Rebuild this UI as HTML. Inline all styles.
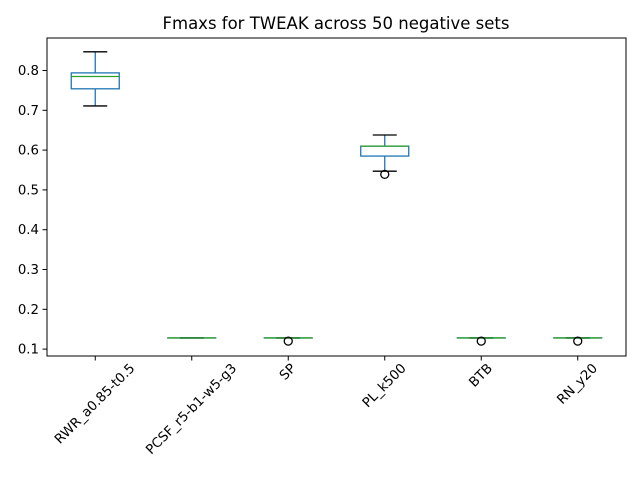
<!DOCTYPE html>
<html><head><meta charset="utf-8"><style>body{margin:0;background:#fff}svg{display:block;font-family:"DejaVu Sans","Liberation Sans",sans-serif}</style></head>
<body>
<svg id="chart" width="640" height="480">
<text x="336" y="29" text-anchor="middle" font-size="16.5">Fmaxs for TWEAK across 50 negative sets</text>
<g id="marks"></g>
<rect x="47" y="38" width="579" height="318" fill="none" stroke="#000" stroke-width="1"/>
<g id="axes"></g>
</svg>
<script>
const categories=["RWR_a0.85-t0.5","PCSF_r5-b1-w5-g3","SP","PL_k500","BTB","RN_y20"];
const whiskerLow=[0.711,0.128,0.128,0.547,0.128,0.128];
const q1=[0.754,0.128,0.128,0.585,0.128,0.128];
const median=[0.785,0.128,0.128,0.610,0.128,0.128];
const q3=[0.794,0.128,0.128,0.610,0.128,0.128];
const whiskerHigh=[0.847,0.128,0.128,0.638,0.128,0.128];
const outliers=[[],[],[0.120],[0.539],[0.120],[0.120]];
const yTicks=[0.1,0.2,0.3,0.4,0.5,0.6,0.7,0.8];
const NS="http://www.w3.org/2000/svg";
const L=47,R=626,B=356;
function y(v){return 70.5+(0.8-v)*398;}
function x(i){return L+(i+0.5)*(R-L)/categories.length;}
function mk(t,a,p){const e=document.createElementNS(NS,t);for(const k in a)e.setAttribute(k,a[k]);p.appendChild(e);return e;}
const g=document.getElementById('marks'),ax=document.getElementById('axes');
categories.forEach((c,i)=>{
 const cx=x(i);
 const grp=mk('g',{},g);
 
 
 mk('line',{x1:cx,x2:cx,y1:y(whiskerHigh[i]),y2:y(q3[i]),stroke:'#1f77b4','stroke-width':1.3},grp);
 mk('line',{x1:cx,x2:cx,y1:y(q1[i]),y2:y(whiskerLow[i]),stroke:'#1f77b4','stroke-width':1.3},grp);
 mk('line',{x1:cx-12,x2:cx+12,y1:y(whiskerHigh[i]),y2:y(whiskerHigh[i]),stroke:'#000','stroke-width':1.3},grp);
 mk('line',{x1:cx-12,x2:cx+12,y1:y(whiskerLow[i]),y2:y(whiskerLow[i]),stroke:'#000','stroke-width':1.3},grp);
 mk('rect',{x:cx-24,y:y(q3[i]),width:48,height:Math.max(0.01,y(q1[i])-y(q3[i])),fill:'none',stroke:'#1f77b4','stroke-width':1.3},grp);
 mk('line',{x1:cx-24,x2:cx+24,y1:y(median[i]),y2:y(median[i]),stroke:'#2ca02c','stroke-width':1.3},grp);
 outliers[i].forEach(v=>{const o=mk('circle',{cx:cx,cy:y(v),r:4,fill:'none',stroke:'#000','stroke-width':1.3},grp);
  
  });
 mk('line',{x1:cx,x2:cx,y1:B,y2:B+4.5,stroke:'#000'},ax);
 const t=mk('text',{'font-size':13.3,'text-anchor':'middle','dominant-baseline':'central'},ax);
 t.textContent=c;
 
 
 const len=t.getComputedTextLength();
 const h=(len+13)*0.7071;
 const cy=362+h/2;
 t.setAttribute('x',cx);t.setAttribute('y',cy);
 t.setAttribute('transform','rotate(-45 '+cx+' '+cy+')');
});
yTicks.forEach(v=>{
 mk('line',{x1:L-4.5,x2:L,y1:y(v),y2:y(v),stroke:'#000'},ax);
 const t=mk('text',{x:L-8,y:y(v)+4.5,'font-size':13.3,'text-anchor':'end'},ax);
 t.textContent=v.toFixed(1);
 
 
});
</script>
</body></html>
